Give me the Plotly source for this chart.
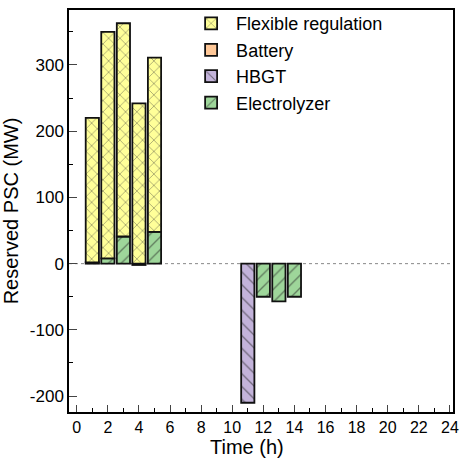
import plotly.graph_objects as go

hours = list(range(1, 25))
flexible = [218, 342, 322, 242, 263] + [None]*19
battery = [None]*24
hbgt = [None]*10 + [-210] + [None]*13
electrolyzer = [2, 8, 41, -2, 48] + [None]*5 + [None, -50, -57, -50] + [None]*10
y_ticks = [-200, -100, 0, 100, 200, 300]
y_ticktext = ["-200", "-100", "0", "100", "200", "300"]

FONT = "Liberation Sans, Arial, sans-serif"
line = dict(color="#111111", width=1.8)

fig = go.Figure()
fig.add_trace(go.Bar(x=hours, y=electrolyzer, name="Electrolyzer",
                     marker=dict(color="#9ED69A", line=line,
                                 pattern=dict(shape="/", fgcolor="#222222", size=9, solidity=0.15))))
fig.add_trace(go.Bar(x=hours, y=hbgt, name="HBGT",
                     marker=dict(color="#C3B3DA", line=line,
                                 pattern=dict(shape="\\", fgcolor="#222222", size=9, solidity=0.15))))
fig.add_trace(go.Bar(x=hours, y=battery, name="Battery",
                     marker=dict(color="#FFC898", line=line)))
fig.add_trace(go.Bar(x=hours, y=flexible, name="Flexible regulation",
                     marker=dict(color="#FFFF99", line=line,
                                 pattern=dict(shape="x", fgcolor="#333333", size=8, solidity=0.18))))

fig.add_hline(y=0, line=dict(color="#888888", width=1, dash="dot"), layer="below")

fig.update_layout(
    width=464, height=459,
    margin=dict(l=69, r=9, t=5, b=47),
    barmode="relative", bargap=0.15,
    plot_bgcolor="white", paper_bgcolor="white",
    font=dict(family=FONT, size=17, color="black"),
    legend=dict(x=0.305, y=1.012, xanchor="left", yanchor="top",
                traceorder="reversed", bgcolor="rgba(0,0,0,0)",
                font=dict(size=18), tracegroupgap=0, itemwidth=40),
    annotations=[dict(text="Time (h)", x=0.464, y=-0.054, xref="paper", yref="paper",
                      xanchor="center", yanchor="top", showarrow=False,
                      font=dict(size=20, family=FONT))],
)
fig.update_xaxes(range=[-0.5, 24.2], tickmode="array", tickvals=list(range(0, 25, 2)),
                 ticks="inside", ticklen=7, tickwidth=1.2, showline=True, linecolor="black",
                 linewidth=1.5, mirror=True, showgrid=False, zeroline=False,
                 minor=dict(tickvals=list(range(1, 25, 2)), ticks="inside", ticklen=4,
                            tickcolor="black", tickwidth=1.2),
                 tickfont=dict(size=16))
fig.update_yaxes(range=[-224, 383], tickmode="array", tickvals=y_ticks, ticktext=y_ticktext,
                 ticks="inside", ticklen=8, tickwidth=1.2, showline=True, linecolor="black",
                 linewidth=1.5, mirror=True, showgrid=False, zeroline=False,
                 minor=dict(tickvals=[-150, -50, 50, 150, 250, 350], ticks="inside", ticklen=4,
                            tickcolor="black", tickwidth=1.2),
                 title=dict(text="Reserved PSC (MW)", font=dict(size=20), standoff=6),
                 tickfont=dict(size=17))

fig.write_html("out.html", config={"displayModeBar": False},
               post_script="document.body.style.margin='0';document.body.style.padding='0';")
